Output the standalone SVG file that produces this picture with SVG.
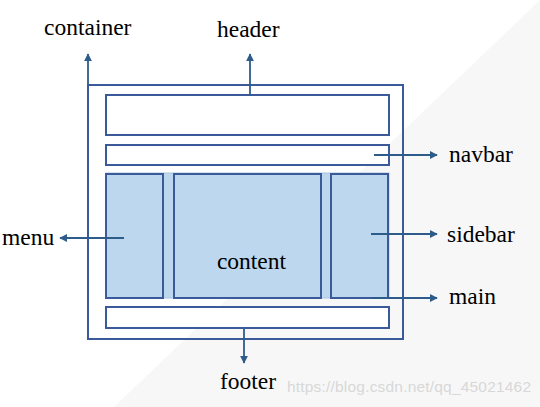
<svg xmlns="http://www.w3.org/2000/svg" width="540" height="407" viewBox="0 0 540 407">
<defs>
<marker id="ah" viewBox="0 0 10 10" refX="9" refY="5" markerWidth="4.5" markerHeight="4.5" orient="auto" markerUnits="strokeWidth">
<path d="M0,0 L10,5 L0,10 z" fill="#2e5c8a"/>
</marker>
</defs>
<style>
.box{fill:#ffffff;stroke:#3a5a9a;stroke-width:2}
.blue{fill:#bdd7ee;stroke:#3a5a9a;stroke-width:2}
.lbl{font-family:'Liberation Serif','Times New Roman',serif;font-size:23.5px;fill:#000}
.conn line{stroke:#2e5c8a;stroke-width:1.8;marker-end:url(#ah)}
</style>
<rect width="540" height="407" fill="#ffffff"/>
<polygon points="540,0 540,407 114,407" fill="#f7f7f7"/>
<g id="container"><rect x="88" y="85" width="315" height="254" fill="none" stroke="#3a5a9a" stroke-width="2"/></g>
<g id="header"><rect class="box" x="106" y="95" width="283" height="40"/></g>
<g id="navbar"><rect class="box" x="106" y="145" width="283" height="20"/></g>
<g id="main"><rect x="106" y="173" width="283" height="125" fill="#bdd7ee" stroke="#a9c3de" stroke-width="1"/></g>
<g id="menu"><rect class="blue" x="106" y="174" width="57" height="124"/></g>
<g id="content"><rect class="blue" x="174" y="174" width="147" height="124"/><text class="lbl" x="251.5" y="269" text-anchor="middle">content</text></g>
<g id="sidebar"><rect class="blue" x="331" y="174" width="57" height="124"/></g>
<g id="footer"><rect class="box" x="106" y="307" width="283" height="21"/></g>
<g class="conn">
<line x1="88" y1="85" x2="88" y2="54"/>
<line x1="250" y1="95" x2="250" y2="54"/>
<line x1="374" y1="155" x2="437" y2="155"/>
<line x1="124" y1="238" x2="60" y2="238"/>
<line x1="371" y1="234" x2="437" y2="234"/>
<line x1="372" y1="298" x2="437" y2="298"/>
<line x1="244" y1="329" x2="244" y2="363"/>
</g>
<g id="labels">
<text class="lbl" x="44" y="35">container</text>
<text class="lbl" x="217" y="37">header</text>
<text class="lbl" x="449" y="162">navbar</text>
<text class="lbl" x="447" y="242">sidebar</text>
<text class="lbl" x="449" y="304">main</text>
<text class="lbl" x="2" y="245">menu</text>
<text class="lbl" x="220" y="389">footer</text>
</g>
<text x="287" y="392" font-family="Liberation Sans, Arial, sans-serif" font-size="15.5" fill="#d8d8d8" textLength="244">https://blog.csdn.net/qq_45021462</text>
</svg>
